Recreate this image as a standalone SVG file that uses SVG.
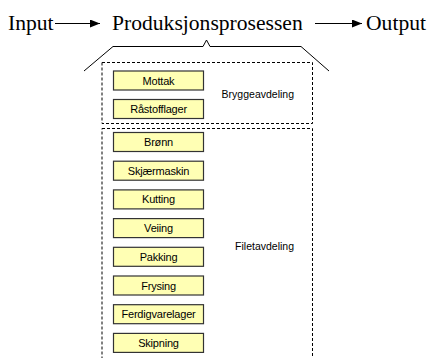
<svg xmlns="http://www.w3.org/2000/svg" width="427" height="358" viewBox="0 0 427 358">
  <defs>
    <marker id="arrow" viewBox="0 0 10 8" refX="10" refY="4" markerWidth="10" markerHeight="8" markerUnits="userSpaceOnUse" orient="auto">
      <path d="M0,0 L10,4 L0,8 Z" fill="#000"/>
    </marker>
    <style>
      .title { font-family: "Liberation Serif", "Times New Roman", serif; font-size: 21.6px; fill: #000; }
      .flow { stroke: #000; stroke-width: 1.2; fill: none; }
      .brace { stroke: #000; stroke-width: 1; fill: none; }
      .dept { fill: none; stroke: #000; stroke-width: 1; stroke-dasharray: 3 2; }
      .dept-label { font-family: "Liberation Sans", Arial, sans-serif; font-size: 10.5px; fill: #000; text-anchor: end; }
      .step rect { fill: #ffffb4; stroke: #333; stroke-width: 1.2; }
      .step text { font-family: "Liberation Sans", Arial, sans-serif; font-size: 11px; fill: #000; text-anchor: middle; letter-spacing: -0.2px; }
    </style>
  </defs>

  <rect width="427" height="358" fill="#fff"/>

  <!-- top line: input -> process -> output -->
  <g id="input"><text class="title" x="8" y="30">Input</text></g>
  <g id="process"><text class="title" x="112" y="30">Produksjonsprosessen</text></g>
  <g id="output"><text class="title" x="366" y="30">Output</text></g>

  <g id="connectors">
    <line class="flow" x1="55" y1="23.5" x2="100" y2="23.5" marker-end="url(#arrow)"/>
    <line class="flow" x1="315" y1="23.5" x2="362" y2="23.5" marker-end="url(#arrow)"/>
    <!-- brace opening down from the process title -->
    <path class="brace" d="M84,71 L113,46.5 L203,46.5 L206.5,40 L210,46.5 L301,46.5 L329,71"/>
  </g>

  <!-- brewing department -->
  <g id="bryggeavdeling">
    <rect class="dept" x="102" y="62.5" width="210.5" height="61"/>
    <text class="dept-label" x="294" y="98">Bryggeavdeling</text>
  </g>

  <!-- fillet department -->
  <g id="filetavdeling">
    <rect class="dept" x="102" y="128.5" width="210.5" height="250"/>
    <text class="dept-label" x="294" y="250">Filetavdeling</text>
  </g>

  <g id="mottak" class="step"><rect x="113.5" y="71" width="90" height="19"/><text x="158.5" y="84.5">Mottak</text></g>
  <g id="rastofflager" class="step"><rect x="113.5" y="99.5" width="90" height="19"/><text x="158.5" y="113">Råstofflager</text></g>
  <g id="bronn" class="step"><rect x="113.5" y="132.5" width="90" height="19"/><text x="158.5" y="146">Brønn</text></g>
  <g id="skjaermaskin" class="step"><rect x="113.5" y="161.2" width="90" height="19"/><text x="158.5" y="174.7">Skjærmaskin</text></g>
  <g id="kutting" class="step"><rect x="113.5" y="189.9" width="90" height="19"/><text x="158.5" y="203.4">Kutting</text></g>
  <g id="veiing" class="step"><rect x="113.5" y="218.6" width="90" height="19"/><text x="158.5" y="232.1">Veiing</text></g>
  <g id="pakking" class="step"><rect x="113.5" y="247.3" width="90" height="19"/><text x="158.5" y="260.8">Pakking</text></g>
  <g id="frysing" class="step"><rect x="113.5" y="276" width="90" height="19"/><text x="158.5" y="289.5">Frysing</text></g>
  <g id="ferdigvarelager" class="step"><rect x="113.5" y="304.7" width="90" height="19"/><text x="158.5" y="318.2">Ferdigvarelager</text></g>
  <g id="skipning" class="step"><rect x="113.5" y="333.4" width="90" height="19"/><text x="158.5" y="346.9">Skipning</text></g>
</svg>
